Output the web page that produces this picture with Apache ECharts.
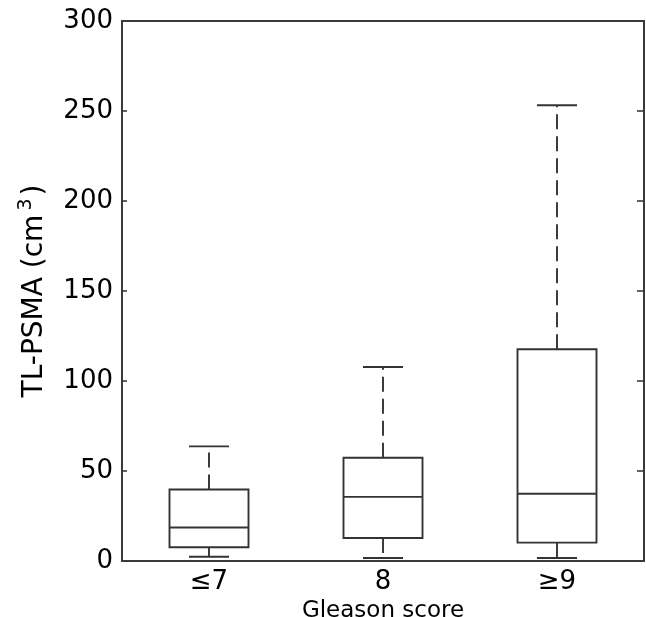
<!DOCTYPE html>
<html>
<head>
<meta charset="utf-8">
<script src="https://cdn.jsdelivr.net/npm/echarts@6/dist/echarts.min.js"></script>
<style>html,body{margin:0;padding:0;background:#fff}#c{width:646px;height:617px}</style>
</head>
<body>
<div id="c"></div>
<script>
var categories = ['≤7', '8', '≥9'];
var whiskerLow = [2.4, 1.7, 1.7];
var q1 = [7.6, 12.8, 10.2];
var median = [18.6, 35.6, 37.4];
var q3 = [39.7, 57.4, 117.6];
var whiskerHigh = [63.7, 107.8, 253.2];
var yTicks = [0, 50, 100, 150, 200, 250, 300];

var lineColor = '#333';
var data = categories.map(function (c, i) {
  return [i, whiskerLow[i], q1[i], median[i], q3[i], whiskerHigh[i]];
});

var chart = echarts.init(document.getElementById('c'), null, {renderer: 'canvas'});
var font = 'DejaVu Sans';
chart.setOption({
  animation: false,
  backgroundColor: '#fff',
  grid: {left: 122, right: 2, top: 21, bottom: 56, show: true, borderColor: '#3a3a3a', borderWidth: 2, backgroundColor: 'transparent', containLabel: false, outerBoundsMode: 'none'},
  xAxis: {
    type: 'category',
    data: categories,
    boundaryGap: true,
    axisLine: {show: false},
    axisTick: {show: false},
    axisLabel: {fontFamily: font, fontSize: 26, color: '#000', margin: 8},
    name: 'Gleason score',
    nameLocation: 'middle',
    nameGap: 31,
    nameTextStyle: {fontFamily: font, fontSize: 23, color: '#000'}
  },
  yAxis: [{
    type: 'value',
    min: yTicks[0], max: yTicks[yTicks.length - 1], interval: 50,
    splitLine: {show: false},
    axisLine: {show: false},
    axisTick: {show: true, inside: true, length: 5, lineStyle: {color: '#3a3a3a', width: 1.6}},
    axisLabel: {fontFamily: font, fontSize: 26, color: '#000', margin: 9},
    name: 'TL-PSMA (cm{sup|3})',
    nameLocation: 'middle',
    nameGap: 70,
    nameTextStyle: {
      fontFamily: font, fontSize: 28, color: '#000',
      rich: {sup: {fontFamily: font, fontSize: 19, color: '#000', verticalAlign: 'top', padding: [0, 3, 16, 4]}}
    }
  }, {
    type: 'value',
    position: 'right',
    min: yTicks[0], max: yTicks[yTicks.length - 1], interval: 50,
    splitLine: {show: false},
    axisLine: {show: false},
    axisTick: {show: true, inside: true, length: 7, lineStyle: {color: '#3a3a3a', width: 1.6}},
    axisLabel: {show: false}
  }],
  series: [{
    type: 'custom',
    data: data,
    encode: {x: 0, y: [1, 2, 3, 4, 5]},
    renderItem: function (params, api) {
      var x = api.value(0);
      var band = api.size([1, 0])[0];
      var bw = band * 0.454;
      var cw = band * 0.23;
      var pLow = api.coord([x, api.value(1)]);
      var pQ1 = api.coord([x, api.value(2)]);
      var pMed = api.coord([x, api.value(3)]);
      var pQ3 = api.coord([x, api.value(4)]);
      var pHigh = api.coord([x, api.value(5)]);
      var cx = pMed[0];
      var solid = {stroke: lineColor, lineWidth: 1.9, fill: null};
      var dashed = {stroke: lineColor, lineWidth: 1.9, fill: null, lineDash: [15, 7]};
      return {
        type: 'group',
        children: [
          {type: 'line', shape: {x1: cx, y1: pQ3[1], x2: cx, y2: pHigh[1]}, style: dashed},
          {type: 'line', shape: {x1: cx, y1: pQ1[1], x2: cx, y2: pLow[1]}, style: dashed},
          {type: 'line', shape: {x1: cx - cw / 2, y1: pHigh[1], x2: cx + cw / 2, y2: pHigh[1]}, style: solid},
          {type: 'line', shape: {x1: cx - cw / 2, y1: pLow[1], x2: cx + cw / 2, y2: pLow[1]}, style: solid},
          {type: 'rect', shape: {x: cx - bw / 2, y: pQ3[1], width: bw, height: pQ1[1] - pQ3[1]}, style: {stroke: lineColor, lineWidth: 1.9, fill: '#fff'}},
          {type: 'line', shape: {x1: cx - bw / 2, y1: pMed[1], x2: cx + bw / 2, y2: pMed[1]}, style: solid}
        ]
      };
    }
  }]
});
</script>
</body>
</html>
